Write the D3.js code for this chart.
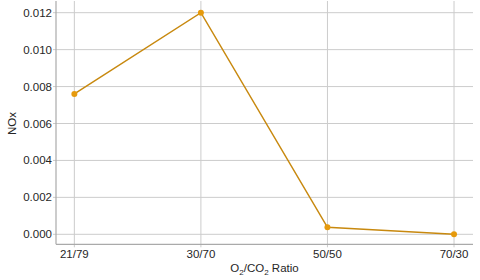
<!DOCTYPE html>
<html><head><meta charset="utf-8">
<script src="https://cdn.jsdelivr.net/npm/d3@7"></script>
<style>body{margin:0;background:#fff}svg{display:block}text{font-family:"Liberation Sans",Arial,sans-serif}</style>
</head><body><svg id="c" width="480" height="280"></svg>
<script>
const categories = ["21/79","30/70","50/50","70/30"];
const noxValues = [0.0076, 0.0120, 0.00038, 0.0];
const yTicks = [0.000,0.002,0.004,0.006,0.008,0.010,0.012];

const svg = d3.select("#c");
const pL=56, pR=473, pT=1, pB=244.3;
const x = d3.scaleLinear().domain([-0.145, 3.15]).range([pL,pR]);
const y = d3.scaleLinear().domain([0, 0.012]).range([234.3, 12.7]);

// gridlines
svg.append("g").selectAll("line").data(yTicks).join("line")
  .attr("x1",pL-3).attr("x2",pR).attr("y1",d=>y(d)).attr("y2",d=>y(d))
  .attr("stroke","#cccccc").attr("stroke-width",1);
svg.append("g").selectAll("line").data(categories).join("line")
  .attr("x1",(d,i)=>x(i)).attr("x2",(d,i)=>x(i)).attr("y1",pT).attr("y2",pB+3)
  .attr("stroke","#cccccc").attr("stroke-width",1);

// spines
svg.append("line").attr("x1",pL).attr("x2",pL).attr("y1",pT).attr("y2",pB)
  .attr("stroke","#aaaaaa").attr("stroke-width",1.2);
svg.append("line").attr("x1",pL).attr("x2",pR).attr("y1",pB).attr("y2",pB)
  .attr("stroke","#aaaaaa").attr("stroke-width",1.2);

// tick labels
svg.append("g").selectAll("text").data(yTicks).join("text")
  .attr("x",pL-4).attr("y",d=>y(d)).attr("dy","0.35em").attr("text-anchor","end")
  .attr("font-size",11.5).attr("fill","#262626").text(d=>d3.format(".3f")(d));
svg.append("g").selectAll("text").data(categories).join("text")
  .attr("x",(d,i)=>x(i)).attr("y",pB+14).attr("text-anchor","middle")
  .attr("font-size",11.5).attr("fill","#262626").text(d=>d);

// axis titles
const xt = svg.append("text").attr("x",(pL+pR)/2).attr("y",272).attr("text-anchor","middle")
  .attr("font-size",11.5).attr("fill","#262626");
xt.append("tspan").text("O");
xt.append("tspan").attr("font-size",8).attr("dy",2.5).text("2");
xt.append("tspan").attr("dy",-2.5).text("/CO");
xt.append("tspan").attr("font-size",8).attr("dy",2.5).text("2");
xt.append("tspan").attr("dy",-2.5).text(" Ratio");
svg.append("text").attr("transform",`translate(16,${(12.7+234.3)/2}) rotate(-90)`)
  .attr("text-anchor","middle").attr("font-size",11.5).attr("fill","#262626").text("NOx");

// line + points
const line = d3.line().x((d,i)=>x(i)).y(d=>y(d));
svg.append("path").datum(noxValues).attr("d",line).attr("fill","none")
  .attr("stroke","#c8890f").attr("stroke-width",1.5);
svg.append("g").selectAll("circle").data(noxValues).join("circle")
  .attr("cx",(d,i)=>x(i)).attr("cy",d=>y(d)).attr("r",3)
  .attr("fill","#e69a0c");
</script></body></html>
